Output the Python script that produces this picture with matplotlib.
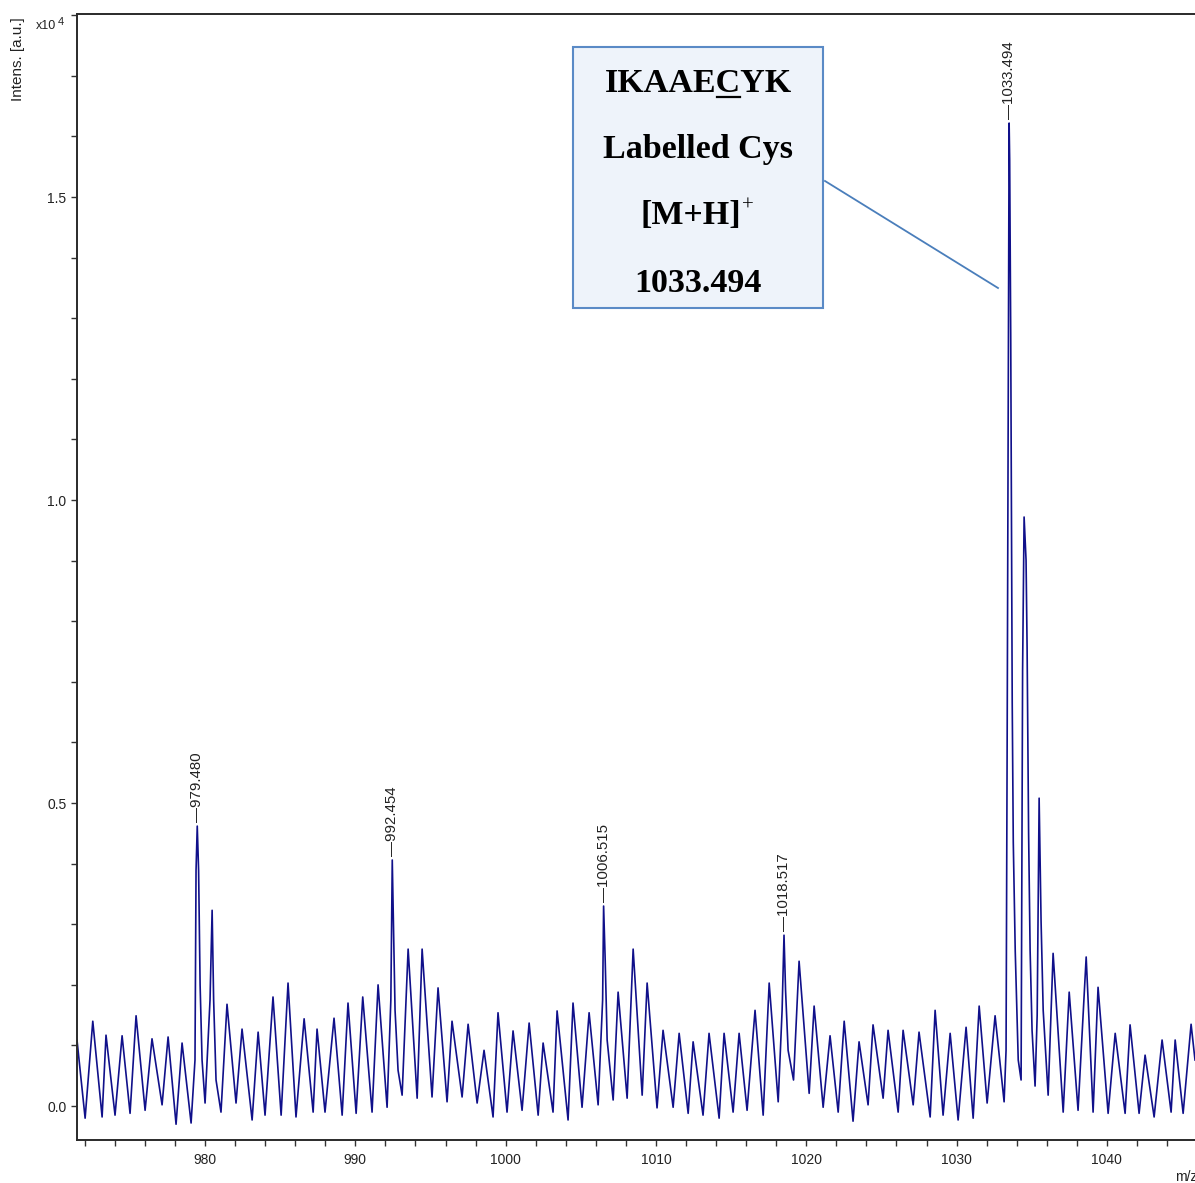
import matplotlib
matplotlib.use("Agg")
import matplotlib.pyplot as plt
from matplotlib.ticker import MultipleLocator, FormatStrFormatter
from matplotlib.patches import Rectangle
from matplotlib.lines import Line2D

plt.rcParams['font.family'] = ['Liberation Sans', 'DejaVu Sans']

# spectrum vertices: m/z and intensity [a.u.]
mz = [971.48, 972.02, 972.53, 973.15, 973.41, 974.01, 974.48, 975.01, 975.41, 976.01,
      976.47, 977.14, 977.54, 978.07, 978.47, 979.07, 979.33, 979.40, 979.48, 979.57,
      979.67, 979.80, 980.00, 980.33, 980.47, 980.57, 980.73, 981.06, 981.46, 982.06,
      982.46, 983.13, 983.53, 983.99, 984.52, 985.06, 985.52, 986.05, 986.59, 987.19,
      987.45, 987.98, 988.58, 989.12, 989.51, 990.05, 990.49, 991.11, 991.51, 992.11,
      992.36, 992.454, 992.54, 992.64, 992.84, 993.11, 993.51, 994.11, 994.44, 995.10,
      995.50, 996.10, 996.43, 997.10, 997.50, 998.10, 998.56, 999.16, 999.49, 1000.09,
      1000.49, 1001.09, 1001.56, 1002.16, 1002.49, 1003.15, 1003.42, 1004.15, 1004.48, 1005.08,
      1005.55, 1006.15, 1006.45, 1006.515, 1006.62, 1006.75, 1007.15, 1007.48, 1008.08, 1008.48,
      1009.08, 1009.41, 1010.07, 1010.47, 1011.14, 1011.54, 1012.14, 1012.47, 1013.13, 1013.53,
      1014.20, 1014.53, 1015.13, 1015.53, 1016.06, 1016.59, 1017.13, 1017.53, 1018.13, 1018.39,
      1018.517, 1018.62, 1018.79, 1019.15, 1019.52, 1020.19, 1020.52, 1021.12, 1021.58, 1022.12,
      1022.52, 1023.11, 1023.51, 1024.11, 1024.44, 1025.11, 1025.44, 1026.11, 1026.44, 1027.11,
      1027.50, 1028.24, 1028.57, 1029.10, 1029.57, 1030.10, 1030.63, 1031.10, 1031.50, 1032.03,
      1032.56, 1033.16, 1033.29, 1033.36, 1033.494, 1033.53, 1033.60, 1033.70, 1033.77, 1033.90,
      1034.10, 1034.29, 1034.39, 1034.49, 1034.62, 1034.69, 1034.79, 1034.89, 1035.02, 1035.22,
      1035.36, 1035.49, 1035.62, 1035.76, 1036.09, 1036.42, 1037.09, 1037.49, 1038.08, 1038.62,
      1039.08, 1039.41, 1040.08, 1040.55, 1041.21, 1041.54, 1042.14, 1042.54, 1043.14, 1043.67,
      1044.27, 1044.54, 1045.07, 1045.60, 1045.86]
intens = [1090, -200, 1400, -180, 1170, -150, 1160, -120, 1490, -70,
          1110, 20, 1140, -300, 1040, -280, 760, 3890, 4620, 3890,
          2000, 760, 50, 1750, 3230, 1750, 430, -100, 1680, 50,
          1270, -230, 1220, -150, 1800, -150, 2030, -180, 1440, -100,
          1270, -100, 1450, -150, 1700, -120, 1800, -100, 2000, -20,
          1750, 4060, 2900, 1580, 590, 180, 2590, 130, 2590, 150,
          1950, 70, 1400, 150, 1350, 50, 920, -180, 1540, -100,
          1240, -70, 1370, -150, 1040, -100, 1570, -230, 1700, -20,
          1540, 20, 1750, 3300, 2410, 1090, 100, 1880, 130, 2590,
          180, 2030, -30, 1250, -20, 1200, -120, 1060, -150, 1200,
          -200, 1200, -100, 1200, -70, 1580, -150, 2030, 70, 1580,
          2820, 1910, 920, 430, 2390, 210, 1650, -20, 1160, -100,
          1400, -250, 1060, 20, 1340, 130, 1250, -100, 1250, 20,
          1220, -180, 1580, -150, 1200, -230, 1300, -200, 1650, 50,
          1490, 70, 920, 5790, 16220, 15610, 12720, 6650, 4360, 2560,
          760, 430, 7180, 9720, 9010, 7560, 4500, 2570, 1250, 330,
          1500, 5080, 3040, 1580, 180, 2520, -100, 1880, -70, 2460,
          -100, 1960, -120, 1200, -120, 1340, -120, 840, -180, 1090,
          -100, 1090, -120, 1350, 760]

peak_mz = [979.480, 992.454, 1006.515, 1018.517, 1033.494]
box_lines = ["IKAAECYK", "Labelled Cys", "[M+H]", "1033.494"]

W, H = 1195, 1183
fig = plt.figure(figsize=(W / 100, H / 100), dpi=100)
ax = fig.add_axes([77 / W, 1 - 1140 / H, 1 - 77 / W, (1140 - 14) / H])

y = [v / 1e4 for v in intens]
ax.plot(mz, y, color='#10108a', lw=1.2)
ax.set_xlim(971.48, 1045.86)
ax.set_ylim(-0.056, 1.802)

ax.xaxis.set_major_locator(MultipleLocator(10))
ax.xaxis.set_minor_locator(MultipleLocator(2))
ax.yaxis.set_major_locator(MultipleLocator(0.5))
ax.yaxis.set_minor_locator(MultipleLocator(0.1))
ax.yaxis.set_major_formatter(FormatStrFormatter('%.1f'))
ax.tick_params(which='both', direction='out', length=4, width=1, colors='#333333',
               labelcolor='#222222', labelsize=10)
ax.tick_params(axis='x', which='both', pad=5)
ax.spines['right'].set_visible(False)
for s in ('left', 'bottom', 'top'):
    ax.spines[s].set_linewidth(1.4)
    ax.spines[s].set_color('#2a2a2a')

# peak labels
for p in peak_mz:
    top = intens[mz.index(p)] / 1e4
    ax.annotate(f"\u2014{p:.3f}", xy=(p, top), xytext=(0, 3), textcoords='offset points',
                rotation=90, ha='center', va='bottom', fontsize=10.8, color='#222222')

fig.text(18 / W, 1 - 59 / H, "Intens. [a.u.]", rotation=90, ha='center', va='center',
         fontsize=11, color='#222222')
fig.text(36 / W, 1 - 29 / H, "x10", ha='left', va='baseline', fontsize=9, color='#222222')
fig.text(58 / W, 1 - 25 / H, "4", ha='left', va='baseline', fontsize=8, color='#222222')
fig.text(1175 / W, 1 - 1181 / H, "m/z", ha='left', va='baseline', fontsize=10, color='#222222')

# annotation box
fig.patches.append(Rectangle((573 / W, 1 - 308 / H), 250 / W, 261 / H, transform=fig.transFigure,
                             facecolor='#eef3fa', edgecolor='#5a8ac6', lw=1.5))
fig.lines.append(Line2D([825 / W, 998 / W], [1 - 181 / H, 1 - 288 / H], transform=fig.transFigure,
                        color='#4a7ebb', lw=1.3))

serif = dict(family='Liberation Serif', weight='bold', fontsize=24.5, color='black')
baselines = [92, 158, 224, 292]
renderer = fig.canvas.get_renderer()
texts = []
for line, b in zip(box_lines, baselines):
    cx = 691 if line == "[M+H]" else 698
    texts.append(fig.text(cx / W, 1 - b / H, line, ha='center', va='baseline', **serif))

# underline the labelled cysteine
full = texts[0].get_window_extent(renderer)
probe = fig.text(0, 0, "IKAAE", **serif)
w1 = probe.get_window_extent(renderer).width
probe.set_text("IKAAEC")
w2 = probe.get_window_extent(renderer).width
probe.remove()
uy = 1 - (baselines[0] + 5) / H
fig.lines.append(Line2D([(full.x0 + w1 + 1) / W, (full.x0 + w2 - 1) / W], [uy, uy],
                        transform=fig.transFigure, color='black', lw=1.6))

# charge superscript
mh = texts[2].get_window_extent(renderer)
fig.text((mh.x1 + 1) / W, 1 - (baselines[2] - 13) / H, "+", ha='left', va='baseline',
         family='Liberation Serif', fontsize=15, color='black')

fig.savefig('out.png', dpi=100)
